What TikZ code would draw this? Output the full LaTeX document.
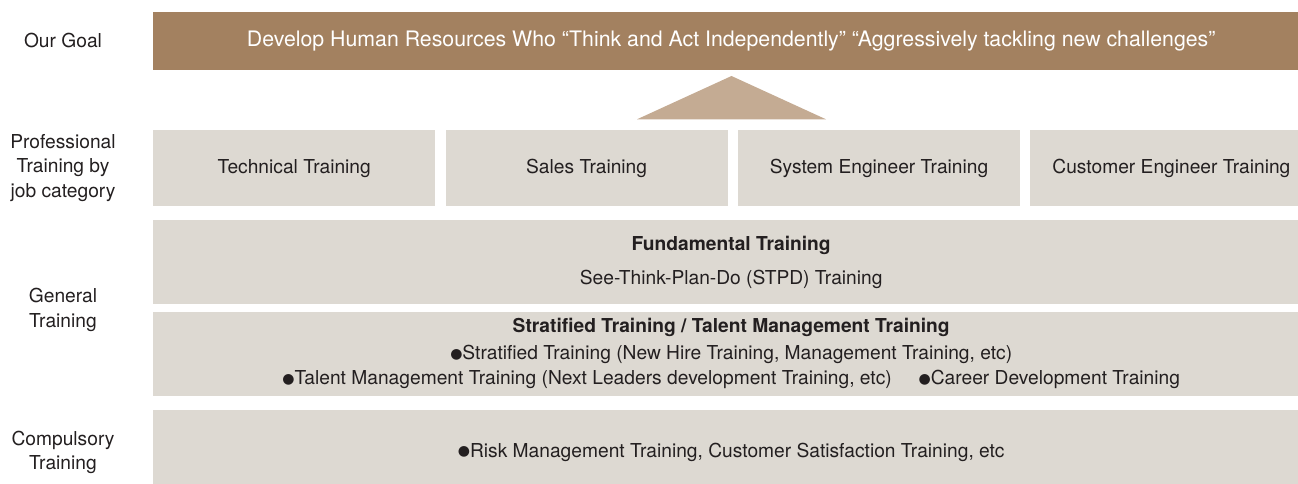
\documentclass[tikz,border=0pt]{standalone}
\usepackage{fontspec}
\setmainfont{TeX Gyre Heros}
\newfontfamily\symfont{DejaVu Sans}
\usetikzlibrary{positioning}

\definecolor{goalbrown}{HTML}{A38160}
\definecolor{roofbrown}{HTML}{C4AB93}
\definecolor{boxgray}{HTML}{DDD9D2}
\definecolor{inkgray}{HTML}{231F20}

\newcommand{\dotmark}{\raisebox{1.2pt}{\symfont\fontsize{14}{14}\selectfont ●}}

\tikzset{
  txt/.style={font=\fontsize{19.2}{24.5}\selectfont},
  rowlabel/.style={txt, align=center, text=inkgray, inner sep=0pt},
  box/.style={txt, fill=boxgray, text=inkgray, inner sep=0pt, align=center},
  jobbox/.style={box, minimum width=282pt, minimum height=76pt},
  widebox/.style={box, minimum width=1156pt, minimum height=84pt}
}

\begin{document}
\begin{tikzpicture}[x=1pt,y=-1pt]
\useasboundingbox (0,0) rectangle (1298,484);

% row labels
\node[rowlabel] (lgoal) at (63,41) {Our Goal};
\node[rowlabel] (ljob) at (63,168) {Professional\\Training by\\job category};
\node[rowlabel] (lgen) at (63,310) {General\\Training};
\node[rowlabel] (lcomp) at (63,452.5) {Compulsory\\Training};

% goal and roof
\node[box, fill=goalbrown, text=white, font=\fontsize{21.3}{24.5}\selectfont,
  minimum width=1156pt, minimum height=58pt, anchor=north west] (goal) at (153,12)
  {Develop Human Resources Who “Think and Act Independently” “Aggressively tackling new challenges”};
\fill[roofbrown] (637,119.3) -- (731.5,76) -- (826,119.3) -- cycle;

% training by job category
\node[jobbox, anchor=north west] (tech) at (153,130) {Technical Training};
\node[jobbox, right=10pt of tech] (sales) {Sales Training};
\node[jobbox, right=10pt of sales] (syseng) {System Engineer Training};
\node[jobbox, right=10pt of syseng] (custeng) {Customer Engineer Training};

% general training
\node[widebox, anchor=north west] (fund) at (153,220)
  {\textbf{Fundamental Training}\\[9.5pt]See-Think-Plan-Do (STPD) Training};
\node[widebox, below=7pt of fund] (strat)
  {\textbf{Stratified Training / Talent Management Training}\\[2.5pt]
   \dotmark Stratified Training (New Hire Training, Management Training, etc)\\
   \dotmark Talent Management Training (Next Leaders development Training, etc)\hspace{1.4em}\dotmark Career Development Training};

% compulsory training
\node[widebox, below=14pt of strat] (risk)
  {\dotmark Risk Management Training, Customer Satisfaction Training, etc};
\end{tikzpicture}
\end{document}
